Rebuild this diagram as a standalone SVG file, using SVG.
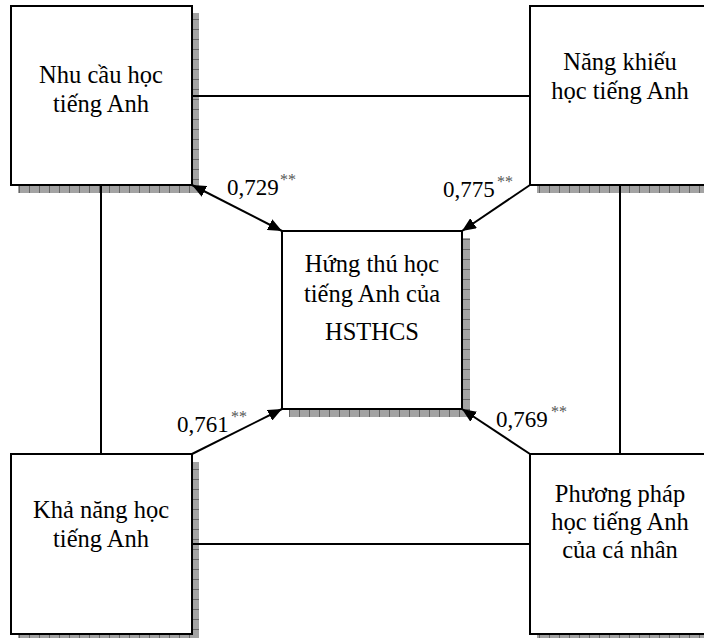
<svg xmlns="http://www.w3.org/2000/svg" width="704" height="638" viewBox="0 0 704 638">
<style>
.box{fill:#fff;stroke:#000;stroke-width:2}
.sh{stroke:none}
.t{font-family:"Liberation Serif","Times New Roman",serif;font-size:24.5px;fill:#000;text-anchor:middle}
.lb{font-family:"Liberation Serif","Times New Roman",serif;font-size:23px;fill:#000}
.sup{font-family:"Liberation Serif","Times New Roman",serif;font-size:16px;fill:#555}
.ln{stroke:#000;stroke-width:2;fill:none}
</style>
<defs>
<pattern id="pH" patternUnits="userSpaceOnUse" width="10" height="10">
<rect width="10" height="10" fill="#a3a3a3"/>
<rect x="9" width="1" height="10" fill="#666"/>
</pattern>
<pattern id="pV" patternUnits="userSpaceOnUse" width="10" height="10">
<rect width="10" height="10" fill="#a3a3a3"/>
<rect y="9" width="10" height="1" fill="#666"/>
</pattern>
<marker id="ah" viewBox="0 0 14 12" refX="14" refY="6" markerWidth="14" markerHeight="12" markerUnits="userSpaceOnUse" orient="auto-start-reverse">
<path d="M0,0 L14,6 L0,12 Z" fill="#000"/>
</marker>
</defs>

<g id="node-nhu-cau">
<rect class="sh" x="192" y="13" width="7" height="180" fill="url(#pV)"/>
<rect class="sh" x="18" y="186" width="181" height="7" fill="url(#pH)"/>
<rect class="box" x="11" y="6" width="181" height="179"/>
<text class="t" x="101" y="83">Nhu cầu học</text>
<text class="t" x="101" y="112">tiếng Anh</text>
</g>

<g id="node-nang-khieu">
<rect class="sh" x="537" y="186" width="180" height="7" fill="url(#pH)"/>
<rect class="box" x="530" y="6" width="182" height="179"/>
<text class="t" x="620" y="70">Năng khiếu</text>
<text class="t" x="620" y="99">học tiếng Anh</text>
</g>

<g id="node-hung-thu">
<rect class="sh" x="462" y="238" width="8" height="179" fill="url(#pV)"/>
<rect class="sh" x="289" y="410" width="181" height="7" fill="url(#pH)"/>
<rect class="box" x="282" y="231" width="180" height="178"/>
<text class="t" x="372" y="272">Hứng thú học</text>
<text class="t" x="372" y="302">tiếng Anh của</text>
<text class="t" x="372" y="340">HSTHCS</text>
</g>

<g id="node-kha-nang">
<rect class="sh" x="192" y="462" width="7" height="180" fill="url(#pV)"/>
<rect class="sh" x="18" y="635" width="181" height="7" fill="url(#pH)"/>
<rect class="box" x="11" y="454" width="181" height="180"/>
<text class="t" x="101" y="518">Khả năng học</text>
<text class="t" x="101" y="547">tiếng Anh</text>
</g>

<g id="node-phuong-phap">
<rect class="sh" x="537" y="635" width="180" height="7" fill="url(#pH)"/>
<rect class="box" x="530" y="454" width="182" height="180"/>
<text class="t" x="620" y="502">Phương pháp</text>
<text class="t" x="620" y="530">học tiếng Anh</text>
<text class="t" x="620" y="558">của cá nhân</text>
</g>

<g id="connectors">
<line class="ln" x1="192" y1="96" x2="530" y2="96"/>
<line class="ln" x1="192" y1="544" x2="530" y2="544"/>
<line class="ln" x1="101" y1="186" x2="101" y2="454"/>
<line class="ln" x1="620" y1="186" x2="620" y2="454"/>
<line class="ln" x1="192" y1="185" x2="282" y2="231" marker-start="url(#ah)" marker-end="url(#ah)"/>
<line class="ln" x1="530" y1="185" x2="462" y2="231" marker-end="url(#ah)"/>
<line class="ln" x1="192" y1="454" x2="282" y2="409" marker-end="url(#ah)"/>
<line class="ln" x1="530" y1="454" x2="462" y2="409" marker-end="url(#ah)"/>
</g>

<g id="labels">
<text class="lb" x="227" y="195">0,729</text><text class="sup" x="280" y="185">**</text>
<text class="lb" x="443" y="197">0,775</text><text class="sup" x="497" y="187">**</text>
<text class="lb" x="177" y="432">0,761</text><text class="sup" x="231" y="422">**</text>
<text class="lb" x="496" y="427">0,769</text><text class="sup" x="551" y="417">**</text>
</g>
</svg>
